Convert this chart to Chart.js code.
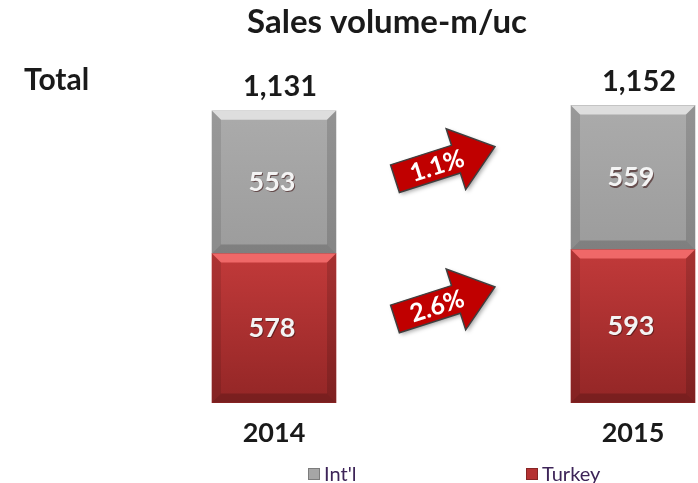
<!DOCTYPE html>
<html>
<head>
<meta charset="utf-8">
<script src="https://cdn.jsdelivr.net/npm/chart.js@4"></script>
<style>
  html, body { margin: 0; padding: 0; background: #fff; }
  #wrap { width: 698px; height: 483px; position: relative; }
</style>
</head>
<body>
<div id="wrap"><canvas id="chart"></canvas></div>
<script>
// Sales volume (m/uc) data
const years = ['2014', '2015'];
const turkey = [578, 593];
const intl = [553, 559];
const growth = ['1.1%', '2.6%'];   // Int'l growth, Turkey growth
const seriesNames = ["Int'l", 'Turkey'];

const FONT = 'Lato, "Open Sans", sans-serif';
const GRAY = '#a6a6a6';
const RED = '#b53232';

// vertical gradient over one stacked segment
function segmentFill(ctx, from, to) {
    const chart = ctx.chart;
    if (!chart.chartArea || !chart.scales.y) return from;
    const i = ctx.dataIndex;
    const y = chart.scales.y;
    const lo = ctx.datasetIndex === 0 ? 0 : turkey[i];
    const hi = ctx.datasetIndex === 0 ? turkey[i] : turkey[i] + intl[i];
    const g = chart.ctx.createLinearGradient(0, y.getPixelForValue(hi), 0, y.getPixelForValue(lo));
    g.addColorStop(0, from);
    g.addColorStop(1, to);
    return g;
}

function drawArrow(c, cx, cy, label) {
    c.save();
    c.translate(cx, cy);
    c.rotate(-0.31);
    c.beginPath();
    c.moveTo(-52, -14.5);
    c.lineTo(12, -14.5);
    c.lineTo(12, -32);
    c.lineTo(53, 0);
    c.lineTo(12, 32);
    c.lineTo(12, 14.5);
    c.lineTo(-52, 14.5);
    c.closePath();
    c.shadowColor = 'rgba(0,0,0,0.35)';
    c.shadowBlur = 4;
    c.shadowOffsetX = 2;
    c.shadowOffsetY = 2;
    c.fillStyle = '#c00000';
    c.fill();
    c.shadowColor = 'transparent';
    c.lineWidth = 1.5;
    c.strokeStyle = '#3f3f3f';
    c.stroke();
    c.fillStyle = '#ffffff';
    c.font = 'bold 25px ' + FONT;
    c.textAlign = 'center';
    c.textBaseline = 'middle';
    c.fillText(label, -8, 1);
    c.restore();
}

const decorations = {
    id: 'decorations',
    afterDatasetsDraw(chart) {
        const c = chart.ctx;
        const b = 9;
        chart.data.datasets.forEach((ds, di) => {
            chart.getDatasetMeta(di).data.forEach(el => {
                const l = el.x - el.width / 2, r = el.x + el.width / 2;
                const t = el.y, btm = el.base;
                c.save();
                // top bevel
                c.beginPath();
                c.moveTo(l, t); c.lineTo(r, t); c.lineTo(r - b, t + b); c.lineTo(l + b, t + b); c.closePath();
                c.fillStyle = di === 0 ? 'rgba(255,120,120,0.75)' : 'rgba(235,235,235,0.8)';
                c.fill();
                // left bevel
                c.beginPath();
                c.moveTo(l, t); c.lineTo(l + b, t + b); c.lineTo(l + b, btm - b); c.lineTo(l, btm); c.closePath();
                c.fillStyle = 'rgba(0,0,0,0.10)';
                c.fill();
                // right bevel
                c.beginPath();
                c.moveTo(r, t); c.lineTo(r - b, t + b); c.lineTo(r - b, btm - b); c.lineTo(r, btm); c.closePath();
                c.fillStyle = 'rgba(0,0,0,0.14)';
                c.fill();
                // bottom bevel
                c.beginPath();
                c.moveTo(l, btm); c.lineTo(l + b, btm - b); c.lineTo(r - b, btm - b); c.lineTo(r, btm); c.closePath();
                c.fillStyle = 'rgba(0,0,0,0.18)';
                c.fill();
                c.restore();
            });
        });

        // values inside the segments
        c.save();
        c.textAlign = 'center';
        c.textBaseline = 'middle';
        c.font = 'bold 27px ' + FONT;
        chart.data.datasets.forEach((ds, di) => {
            chart.getDatasetMeta(di).data.forEach((el, i) => {
                const yMid = (el.y + el.base) / 2;
                c.fillStyle = 'rgba(60,20,20,0.6)';
                c.fillText(ds.data[i], el.x - 1, yMid + 1.5);
                c.fillStyle = '#f4f4f4';
                c.fillText(ds.data[i], el.x - 2, yMid);
            });
        });

        // totals above the bars
        c.fillStyle = '#1a1a1a';
        c.font = 'bold 29px ' + FONT;
        const topMeta = chart.getDatasetMeta(1);
        topMeta.data.forEach((el, i) => {
            const total = turkey[i] + intl[i];
            c.fillText(total.toLocaleString('en-US'), el.x + 6, el.y - 24);
        });

        // title and row label
        c.font = 'bold 33px ' + FONT;
        c.fillText('Sales volume-m/uc', 387, 22);
        c.textAlign = 'left';
        c.font = 'bold 30px ' + FONT;
        c.fillText('Total', 24, 80);
        c.restore();

        // growth arrows between the bars
        const y = chart.scales.y;
        const x0 = topMeta.data[0].x, x1 = topMeta.data[1].x;
        const ax = (x0 + x1) / 2 - 9;
        const intlMid = (turkey[0] + intl[0] / 2 + turkey[1] + intl[1] / 2) / 2;
        const turkeyMid = (turkey[0] / 2 + turkey[1] / 2) / 2;
        drawArrow(c, ax, y.getPixelForValue(intlMid) - 17, growth[0]);
        drawArrow(c, ax, y.getPixelForValue(turkeyMid) - 24, growth[1]);

        // legend
        c.save();
        c.font = '20px ' + FONT;
        c.textBaseline = 'middle';
        c.textAlign = 'left';
        const legend = [
            { name: seriesNames[0], color: GRAY, x: 308 },
            { name: seriesNames[1], color: RED, x: 526 }
        ];
        legend.forEach(item => {
            c.fillStyle = item.color;
            c.fillRect(item.x, 468, 12, 12);
            c.strokeStyle = 'rgba(0,0,0,0.25)';
            c.lineWidth = 1;
            c.strokeRect(item.x + 0.5, 468.5, 11, 11);
            c.fillStyle = '#3d2458';
            c.fillText(item.name, item.x + 16, 475);
        });
        c.restore();
    }
};

new Chart(document.getElementById('chart'), {
    type: 'bar',
    data: {
        labels: years,
        datasets: [
            {
                label: seriesNames[1],
                data: turkey,
                backgroundColor: ctx => segmentFill(ctx, '#c23a3a', '#932626')
            },
            {
                label: seriesNames[0],
                data: intl,
                backgroundColor: ctx => segmentFill(ctx, '#ababab', '#9c9c9c')
            }
        ]
    },
    options: {
        responsive: true,
        maintainAspectRatio: false,
        animation: false,
        barThickness: 124,
        clip: false,
        layout: { padding: { left: 274, right: 65, top: 93, bottom: 20 } },
        plugins: {
            legend: { display: false },
            tooltip: { enabled: false }
        },
        scales: {
            x: {
                stacked: true,
                offset: false,
                grid: { display: false, drawTicks: false },
                border: { display: false },
                ticks: {
                    padding: 14,
                    color: '#1a1a1a',
                    font: { family: FONT, size: 27, weight: 'bold' }
                }
            },
            y: {
                stacked: true,
                display: false,
                min: 0,
                max: 1200
            }
        }
    },
    plugins: [decorations]
});
</script>
</body>
</html>
